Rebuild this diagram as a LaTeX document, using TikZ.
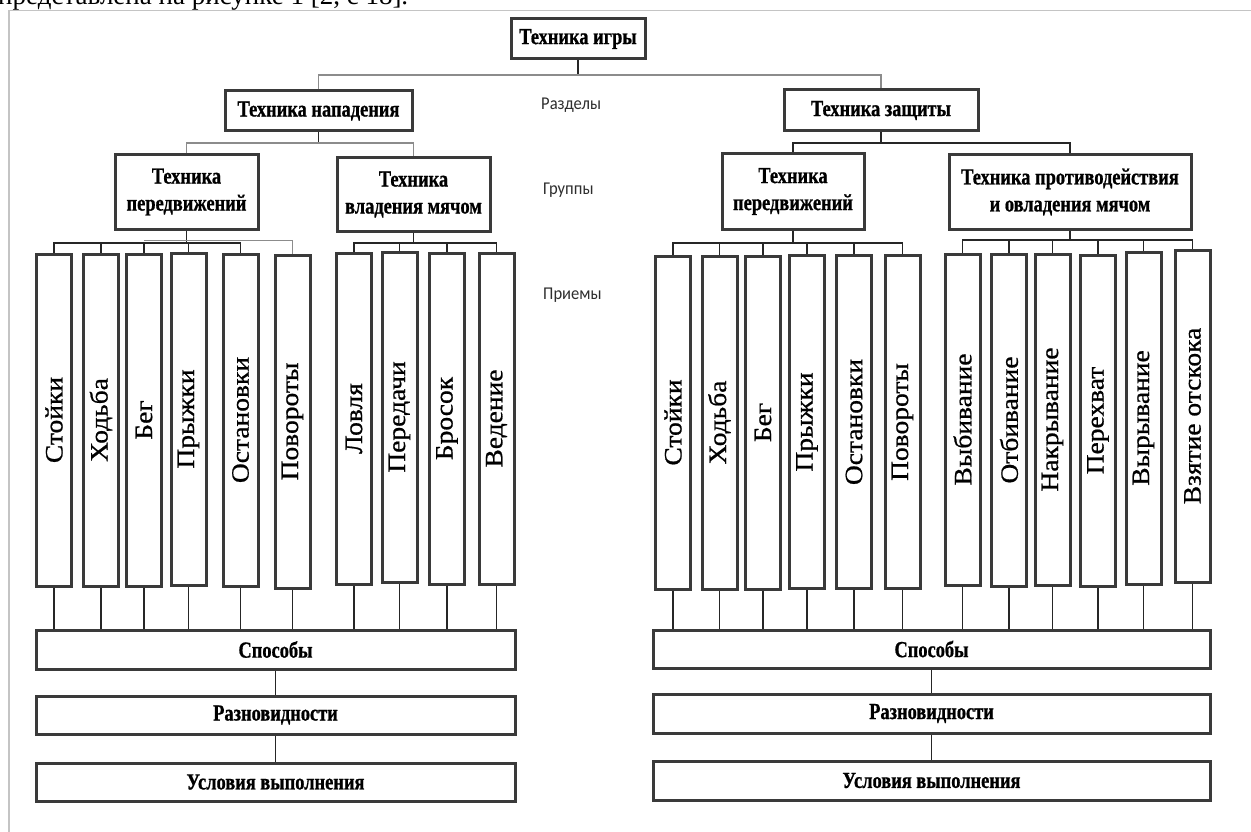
\documentclass[tikz,border=0pt]{standalone}
\usepackage{fontspec}
\newfontfamily\boxfont[FakeStretch=0.8,FakeBold=0.8]{Liberation Serif Bold}
\newfontfamily\vfont[FakeStretch=1.1,FakeBold=0.8]{Liberation Serif}
\newfontfamily\lblfont[FakeStretch=0.92]{Carlito}
\newfontfamily\topfont{Liberation Serif}
\definecolor{boxc}{HTML}{3A3A3A}
\definecolor{lblc}{HTML}{2E2E2E}
\definecolor{framec}{HTML}{C4C4C4}
\begin{document}
\begin{tikzpicture}[x=1pt,y=-1pt,
  box/.style={draw=boxc, line width=3pt, inner sep=0pt, align=center, text=black,
    font=\boxfont\fontsize{23}{27}\selectfont},
  vb/.style={draw=boxc, line width=3pt, inner sep=0pt, rotate=90, minimum height=35,
    text=black, font=\vfont\fontsize{25}{25}\selectfont},
  conn/.style={line width=1.1pt, draw=black!85},
  connb/.style={line width=1.1pt, draw=black!45},
  lbl/.style={font=\lblfont\fontsize{18}{18}\selectfont, text=lblc, anchor=west, inner sep=0pt}]
\useasboundingbox (0,0) rectangle (1251,832);
\clip (0,0) rectangle (1251,832);
\fill[white] (0,0) rectangle (1251,832);
% cut-off caption line and frame
\node[anchor=base west, inner sep=0pt, font=\topfont\fontsize{27}{27}\selectfont] (cap) at (-2,4.5) {представлена на рисунке 1 [2, с 18].};
\draw[framec, line width=1.3pt] (9,832) -- (9,10.5) -- (1251,10.5);

% levels
\coordinate (l0) at (0,75);
\coordinate (l1) at (0,143);
\coordinate (l2) at (0,243);
\coordinate (l2g) at (0,240.5);
\coordinate (l2r) at (0,240);

% top levels
\node[box, minimum width=134, minimum height=40] (T) at (578,39) {Техника игры};
\node[box, minimum width=187, minimum height=40] (N) at (318.5,111) {Техника нападения};
\node[box, minimum width=194, minimum height=41] (Z) at (881,110.5) {Техника защиты};

\node[box, minimum width=143, minimum height=74] (G1) at (186.5,192) {Техника\\передвижений};
\node[box, minimum width=153, minimum height=73] (G2) at (413.5,194.5) {Техника\\владения мячом};
\node[box, minimum width=142, minimum height=75] (G3) at (793,191.5) {Техника\\передвижений};
\node[box, minimum width=242, minimum height=74] (G4) at (1070,192) {Техника противодействия\\и овладения мячом};

% labels
\node[lbl] (lr) at (541,105) {Разделы};
\node[lbl] (lg) at (543,190) {Группы};
\node[lbl] (lp) at (543,295) {Приемы};

% left vertical boxes
\node[vb, minimum width=332] (a1) at (54,420) {Стойки};
\node[vb, minimum width=332] (a2) at (101,420) {Ходьба};
\node[vb, minimum width=332] (a3) at (144,420) {Бег};
\node[vb, minimum width=332] (a4) at (188.5,419) {Прыжки};
\node[vb, minimum width=332] (a5) at (240.5,420) {Остановки};
\node[vb, minimum width=333] (a6) at (292.5,421.5) {Повороты};
\node[vb, minimum width=331] (b1) at (354,418.5) {Ловля};
\node[vb, minimum width=330] (b2) at (399.5,417) {Передачи};
\node[vb, minimum width=331] (b3) at (447,418.5) {Бросок};
\node[vb, minimum width=331] (b4) at (496.5,418.5) {Ведение};

% right vertical boxes
\node[vb, minimum width=333] (c1) at (673,422.5) {Стойки};
\node[vb, minimum width=333] (c2) at (719.5,422.5) {Ходьба};
\node[vb, minimum width=333] (c3) at (763,422.5) {Бег};
\node[vb, minimum width=333] (c4) at (807,422) {Прыжки};
\node[vb, minimum width=333] (c5) at (854,422) {Остановки};
\node[vb, minimum width=333] (c6) at (902.5,422) {Повороты};
\node[vb, minimum width=331] (d1) at (962.5,419.5) {Выбивание};
\node[vb, minimum width=332] (d2) at (1009,420) {Отбивание};
\node[vb, minimum width=331] (d3) at (1052.5,419.5) {Накрывание};
\node[vb, minimum width=331] (d4) at (1098,420.5) {Перехват};
\node[vb, minimum width=332] (d5) at (1143.5,418) {Вырывание};
\node[vb, minimum width=332] (d6) at (1192.5,416) {Взятие отскока};

% bottom boxes
\node[box, minimum width=479, minimum height=39] (SL) at (275.5,649.5) {Способы};
\node[box, minimum width=479, minimum height=38] (RL) at (275.5,715) {Разновидности};
\node[box, minimum width=479, minimum height=38] (UL) at (275.5,782) {Условия выполнения};
\node[box, minimum width=557, minimum height=38] (SR) at (931.5,649) {Способы};
\node[box, minimum width=557, minimum height=39] (RR) at (931.5,713.5) {Разновидности};
\node[box, minimum width=557, minimum height=39] (UR) at (931.5,780.5) {Условия выполнения};

% connectors: top
\draw[conn] (T.south) -- (T.south |- l0);
\draw[connb] (N.north) -- (N.north |- l0) -- (Z.north |- l0) -- (Z.north);
\draw[conn] (N.south) -- (N.south |- l1);
\draw[connb] (G1.north) -- (G1.north |- l1) -- (G2.north |- l1) -- (G2.north);
\draw[conn] (Z.south) -- (Z.south |- l1);
\draw[conn] (G3.north) -- (G3.north |- l1) -- (G4.north |- l1) -- (G4.north);

% group brackets
\draw[conn] (G1.south) -- (G1.south |- l2);
\draw[conn] (a1.east) -- (a1.east |- l2) -- (a5.east |- l2) -- (a5.east);
\foreach \n in {a2,a3,a4} \draw[conn] (\n.east) -- (\n.east |- l2);
\draw[connb] (a3.east |- l2g) -- (a6.east |- l2g) -- (a6.east);

\draw[conn] (G2.south) -- (G2.south |- l2);
\draw[conn] (b1.east) -- (b1.east |- l2) -- (b4.east |- l2) -- (b4.east);
\foreach \n in {b2,b3} \draw[conn] (\n.east) -- (\n.east |- l2);

\draw[conn] (G3.south) -- (G3.south |- l2);
\draw[conn] (c1.east) -- (c1.east |- l2) -- (c6.east |- l2) -- (c6.east);
\foreach \n in {c2,c3,c4,c5} \draw[conn] (\n.east) -- (\n.east |- l2);

\draw[conn] (G4.south) -- (G4.south |- l2r);
\draw[conn] (d1.east) -- (d1.east |- l2r) -- (d6.east |- l2r) -- (d6.east);
\foreach \n in {d2,d3,d4,d5} \draw[conn] (\n.east) -- (\n.east |- l2r);

% down to Способы
\foreach \n in {a1,a2,a3,a4,a5,a6,b1,b2,b3,b4} \draw[conn] (\n.west) -- (\n.west |- SL.north);
\foreach \n in {c1,c2,c3,c4,c5,c6,d1,d2,d3,d4,d5,d6} \draw[conn] (\n.west) -- (\n.west |- SR.north);

\draw[conn] (SL.south) -- (RL.north);
\draw[conn] (RL.south) -- (UL.north);
\draw[conn] (SR.south) -- (RR.north);
\draw[conn] (RR.south) -- (UR.north);
\end{tikzpicture}
\end{document}
